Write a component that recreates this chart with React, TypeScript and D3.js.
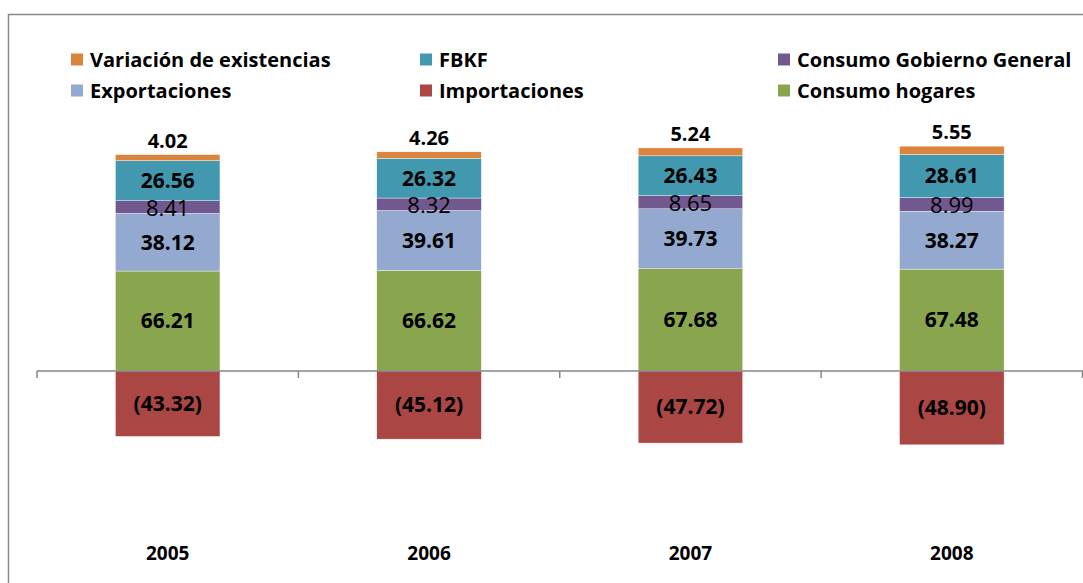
import React from "react";
import * as d3 from "d3";

const years = ["2005", "2006", "2007", "2008"];
const consumoHogares = [66.21, 66.62, 67.68, 67.48];
const exportaciones = [38.12, 39.61, 39.73, 38.27];
const consumoGobierno = [8.41, 8.32, 8.65, 8.99];
const fbkf = [26.56, 26.32, 26.43, 28.61];
const variacion = [4.02, 4.26, 5.24, 5.55];
const importaciones = [-43.32, -45.12, -47.72, -48.9];

const seriesNames = [
  "Consumo hogares",
  "Exportaciones",
  "Consumo Gobierno General",
  "FBKF",
  "Variación de existencias",
];
const seriesValues = [consumoHogares, exportaciones, consumoGobierno, fbkf, variacion];
const seriesColors = ["#89A54E", "#93A9CF", "#71588F", "#4198AF", "#DB843D"];
const importColor = "#AA4643";

const legendItems = [
  { name: "Variación de existencias", color: "#DB843D" },
  { name: "FBKF", color: "#4198AF" },
  { name: "Consumo Gobierno General", color: "#71588F" },
  { name: "Exportaciones", color: "#93A9CF" },
  { name: "Importaciones", color: importColor },
  { name: "Consumo hogares", color: "#89A54E" },
];

const FONT = "'Open Sans', sans-serif";

export default function App() {
  const W = 1083;
  const H = 583;
  const plotLeft = 37;
  const plotRight = 1082.5;
  const zeroY = 371;
  const k = 1.51;
  const yTop = 160;
  const yBot = -110;
  const y = d3
    .scaleLinear()
    .domain([yBot, yTop])
    .range([zeroY - yBot * k, zeroY - yTop * k]);
  const x = d3.scaleBand().domain(years).range([plotLeft, plotRight]).padding(0);
  const bw = x.bandwidth() * 0.4;

  const fmt = (v: number) => (v < 0 ? `(${Math.abs(v).toFixed(2)})` : v.toFixed(2));

  const legendCols = [71, 420, 778];
  const legendRows = [60, 91];

  return (
    <svg
      width={W}
      height={H}
      style={{ position: "absolute", left: 0, top: 0, background: "#fff" }}
      fontFamily={FONT}
    >
      <rect x={8.5} y={14.5} width={1200} height={700} fill="#fff" stroke="#898989" strokeWidth={1.5} />
      {/* legend */}
      {legendItems.map((it, i) => {
        const col = i % 3;
        const row = Math.floor(i / 3);
        const lx = legendCols[col];
        const ly = legendRows[row];
        return (
          <g key={it.name}>
            <rect x={lx} y={ly - 6.5} width={12} height={12} fill={it.color} />
            <text x={lx + 19} y={ly} dy="0.35em" fontSize={20} fontWeight="bold" fill="#000">
              {it.name}
            </text>
          </g>
        );
      })}
      {/* bars */}
      {years.map((yr, i) => {
        const cx = (x(yr) as number) + x.bandwidth() / 2;
        let base = 0;
        const segs = seriesValues.map((vals, s) => {
          const v = vals[i];
          const y0 = base;
          const y1 = base + v;
          base = y1;
          return { s, v, y0, y1 };
        });
        const imp = importaciones[i];
        return (
          <g key={yr}>
            {segs.map((sg) => (
              <rect
                key={sg.s}
                x={cx - bw / 2}
                y={y(sg.y1)}
                width={bw}
                height={y(sg.y0) - y(sg.y1)}
                fill={seriesColors[sg.s]}
                stroke="#fff"
                strokeWidth={0.4}
              />
            ))}
            <rect
              x={cx - bw / 2}
              y={y(0)}
              width={bw}
              height={y(imp) - y(0)}
              fill={importColor}
              stroke="#fff"
              strokeWidth={0.4}
            />
            {segs.map((sg) => {
              if (sg.s === 4) {
                return (
                  <text key={"l" + sg.s} x={cx} y={y(sg.y1) - 14} textAnchor="middle" dy="0.35em" fontSize={20} fontWeight="bold">
                    {fmt(sg.v)}
                  </text>
                );
              }
              const isGob = sg.s === 2;
              return (
                <text
                  key={"l" + sg.s}
                  x={cx}
                  y={(y(sg.y0) + y(sg.y1)) / 2 + (isGob ? 1 : 0)}
                  textAnchor="middle"
                  dy="0.35em"
                  fontSize={isGob ? 22 : 21}
                  fontWeight={isGob ? "normal" : "bold"}
                >
                  {fmt(sg.v)}
                </text>
              );
            })}
            <text x={cx} y={(y(0) + y(imp)) / 2} textAnchor="middle" dy="0.35em" fontSize={21} fontWeight="bold">
              {fmt(imp)}
            </text>
            <text x={cx} y={553} textAnchor="middle" dy="0.35em" fontSize={19} fontWeight="bold">
              {yr}
            </text>
          </g>
        );
      })}
      {/* axis */}
      <line x1={plotLeft} x2={plotRight + 1} y1={y(0)} y2={y(0)} stroke="#868686" strokeWidth={1.5} />
      {[...years.map((yr) => x(yr) as number), plotRight].map((tx, i) => (
        <line key={i} x1={tx} x2={tx} y1={y(0)} y2={y(0) + 7} stroke="#868686" strokeWidth={1.5} />
      ))}
    </svg>
  );
}
